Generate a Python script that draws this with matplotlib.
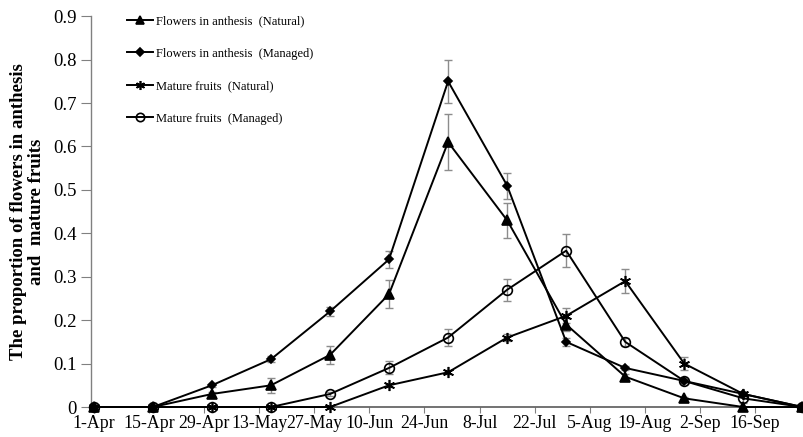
import numpy as np
import pandas as pd
import matplotlib
matplotlib.use("Agg")
import matplotlib.pyplot as plt

# sampling dates (every 15 days)
dates = pd.to_datetime(["2013-04-01", "2013-04-16", "2013-05-01", "2013-05-16", "2013-05-31",
                        "2013-06-15", "2013-06-30", "2013-07-15", "2013-07-30", "2013-08-14",
                        "2013-08-29", "2013-09-13", "2013-09-28"])

flowers_nat = [0, 0, 0.03, 0.05, 0.12, 0.26, 0.61, 0.43, 0.19, 0.07, 0.02, 0, 0]
flowers_nat_err = [0, 0, 0.005, 0.017, 0.02, 0.033, 0.065, 0.04, 0.015, 0.005, 0.003, 0, 0]
flowers_man = [0, 0, 0.05, 0.11, 0.22, 0.34, 0.75, 0.51, 0.15, 0.09, 0.06, 0.03, 0]
flowers_man_err = [0, 0, 0.004, 0.007, 0.01, 0.02, 0.05, 0.03, 0.01, 0.005, 0.004, 0.003, 0]
fruits_nat = [0, 0, 0, 0, 0, 0.05, 0.08, 0.16, 0.21, 0.29, 0.10, 0.03, 0]
fruits_nat_err = [0, 0, 0, 0, 0, 0.004, 0.005, 0.008, 0.017, 0.027, 0.015, 0.004, 0]
fruits_man = [0, 0, 0, 0, 0.03, 0.09, 0.16, 0.27, 0.36, 0.15, 0.06, 0.02, 0]
fruits_man_err = [0, 0, 0, 0, 0.004, 0.015, 0.02, 0.025, 0.038, 0.01, 0.005, 0.01, 0]

tick_dates = pd.date_range("2013-04-01", periods=13, freq="14D")
tick_labels = ["1-Apr", "15-Apr", "29-Apr", "13-May", "27-May", "10-Jun", "24-Jun",
               "8-Jul", "22-Jul", "5-Aug", "19-Aug", "2-Sep", "16-Sep"]

plt.rcParams["font.family"] = ["Liberation Serif", "DejaVu Serif"]

fig = plt.figure(figsize=(8.04, 4.37), dpi=100)
ax = fig.add_axes([0.113, 0.0686, 0.887, 0.8944])

series = [
    (flowers_nat, flowers_nat_err, "^", 7, "Flowers in anthesis  (Natural)", "k"),
    (flowers_man, flowers_man_err, "D", 4.5, "Flowers in anthesis  (Managed)", "k"),
    (fruits_nat, fruits_nat_err, (6, 2, 0), 8, "Mature fruits  (Natural)", "k"),
    (fruits_man, fruits_man_err, "o", 7, "Mature fruits  (Managed)", "none"),
]

for vals, err, mk, ms, lab, fc in series:
    ax.errorbar(dates, vals, yerr=err, fmt="none", ecolor="#8c8c8c",
                elinewidth=1, capsize=3, capthick=1, zorder=2)
    ax.plot(dates, vals, color="black", lw=1.4, marker=mk, markersize=ms,
            markerfacecolor=fc, markeredgecolor="black", markeredgewidth=1.2,
            label=lab, zorder=3, clip_on=False)

ax.set_xlim(pd.Timestamp("2013-03-31 06:00"), pd.Timestamp("2013-09-28 10:00"))
ax.set_ylim(0, 0.9)
ax.set_yticks(np.arange(0, 0.91, 0.1))
ax.set_yticklabels(["0"] + ["%.1f" % v for v in np.arange(0.1, 0.91, 0.1)])
ax.set_xticks(tick_dates)
ax.set_xticklabels(tick_labels)

for s in ["top", "right"]:
    ax.spines[s].set_visible(False)
ax.spines["left"].set_color("#808080")
ax.spines["bottom"].set_color("#5a5a5a")
ax.spines["left"].set_linewidth(1)
ax.spines["bottom"].set_linewidth(1.2)
ax.tick_params(axis="y", direction="out", length=7, color="#808080", labelsize=13.5, pad=3)
ax.tick_params(axis="x", direction="out", length=4, color="#808080", labelsize=12.8, pad=2)

ax.set_ylabel("The proportion of flowers in anthesis\nand  mature fruits",
              fontsize=13.5, fontweight="bold", labelpad=6, linespacing=1.1)

leg = fig.legend(loc="upper left", bbox_to_anchor=(0.152, 0.977), frameon=False,
                 fontsize=9, handlelength=2.1, handletextpad=0.2, labelspacing=1.64,
                 borderaxespad=0)
leg_sizes = [6, 4, 6.5, 6]
for h, s in zip(leg.legend_handles, leg_sizes):
    h.set_markersize(s)

fig.savefig("out.png", dpi=100)
